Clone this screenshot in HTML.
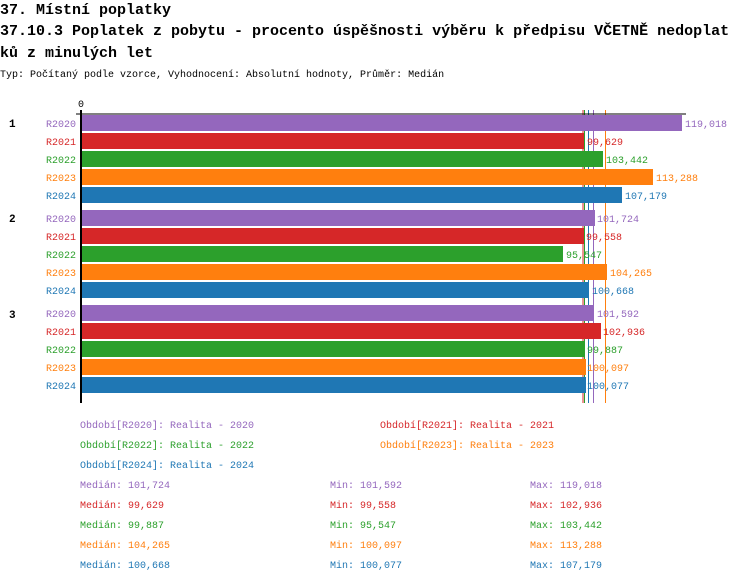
<!DOCTYPE html>
<html><head><meta charset="utf-8"><style>
body{margin:0;background:#fff;}
svg{display:block;font-family:"Liberation Mono",monospace;}
</style></head><body>
<svg width="750" height="582" xmlns="http://www.w3.org/2000/svg">
<g font-weight="bold" font-size="15" fill="#000">
<text x="0" y="14">37. Místní poplatky</text>
<text x="0" y="35">37.10.3 Poplatek z pobytu - procento úspěšnosti výběru k předpisu VČETNĚ nedoplat</text>
<text x="0" y="57">ků z minulých let</text>
</g>
<text x="0" y="77" font-size="10">Typ: Počítaný podle vzorce, Vyhodnocení: Absolutní hodnoty, Průměr: Medián</text>
<text x="78" y="107" font-size="10">0</text>
<g font-size="11" font-weight="bold"><text x="9" y="127">1</text><text x="9" y="222">2</text><text x="9" y="318">3</text></g>
<!-- median lines (behind bars) -->
<g stroke-width="1">
<line x1="583" y1="110" x2="583" y2="403" stroke="#d62728"/>
<line x1="584.5" y1="110" x2="584.5" y2="403" stroke="#2ca02c"/>
<line x1="588.5" y1="110" x2="588.5" y2="403" stroke="#1f77b4"/>
<line x1="593.5" y1="110" x2="593.5" y2="403" stroke="#9467bd"/>
<line x1="605.5" y1="110" x2="605.5" y2="403" stroke="#ff7f0e"/>
</g>
<g font-size="10">
<rect x="82" y="115" width="600" height="16" fill="#9467bd"/><text x="46" y="127" fill="#9467bd">R2020</text><text x="685" y="127" fill="#9467bd">119,018</text>
<rect x="82" y="133" width="502" height="16" fill="#d62728"/><text x="46" y="145" fill="#d62728">R2021</text><text x="587" y="145" fill="#d62728">99,629</text>
<rect x="82" y="151" width="521" height="16" fill="#2ca02c"/><text x="46" y="163" fill="#2ca02c">R2022</text><text x="606" y="163" fill="#2ca02c">103,442</text>
<rect x="82" y="169" width="571" height="16" fill="#ff7f0e"/><text x="46" y="181" fill="#ff7f0e">R2023</text><text x="656" y="181" fill="#ff7f0e">113,288</text>
<rect x="82" y="187" width="540" height="16" fill="#1f77b4"/><text x="46" y="199" fill="#1f77b4">R2024</text><text x="625" y="199" fill="#1f77b4">107,179</text>
<rect x="82" y="210" width="513" height="16" fill="#9467bd"/><text x="46" y="222" fill="#9467bd">R2020</text><text x="597" y="222" fill="#9467bd">101,724</text>
<rect x="82" y="228" width="502" height="16" fill="#d62728"/><text x="46" y="240" fill="#d62728">R2021</text><text x="586" y="240" fill="#d62728">99,558</text>
<rect x="82" y="246" width="481" height="16" fill="#2ca02c"/><text x="46" y="258" fill="#2ca02c">R2022</text><text x="566" y="258" fill="#2ca02c">95,547</text>
<rect x="82" y="264" width="525" height="16" fill="#ff7f0e"/><text x="46" y="276" fill="#ff7f0e">R2023</text><text x="610" y="276" fill="#ff7f0e">104,265</text>
<rect x="82" y="282" width="507" height="16" fill="#1f77b4"/><text x="46" y="294" fill="#1f77b4">R2024</text><text x="592" y="294" fill="#1f77b4">100,668</text>
<rect x="82" y="305" width="512" height="16" fill="#9467bd"/><text x="46" y="317" fill="#9467bd">R2020</text><text x="597" y="317" fill="#9467bd">101,592</text>
<rect x="82" y="323" width="519" height="16" fill="#d62728"/><text x="46" y="335" fill="#d62728">R2021</text><text x="603" y="335" fill="#d62728">102,936</text>
<rect x="82" y="341" width="503" height="16" fill="#2ca02c"/><text x="46" y="353" fill="#2ca02c">R2022</text><text x="587" y="353" fill="#2ca02c">99,887</text>
<rect x="82" y="359" width="504" height="16" fill="#ff7f0e"/><text x="46" y="371" fill="#ff7f0e">R2023</text><text x="587" y="371" fill="#ff7f0e">100,097</text>
<rect x="82" y="377" width="504" height="16" fill="#1f77b4"/><text x="46" y="389" fill="#1f77b4">R2024</text><text x="587" y="389" fill="#1f77b4">100,077</text>
</g>
<line x1="76" y1="114" x2="686" y2="114" stroke="#000" stroke-width="1"/>
<line x1="81" y1="110" x2="81" y2="403" stroke="#000" stroke-width="2"/>
<g font-size="10">
<text x="80" y="428" fill="#9467bd">Období[R2020]: Realita - 2020</text>
<text x="380" y="428" fill="#d62728">Období[R2021]: Realita - 2021</text>
<text x="80" y="448" fill="#2ca02c">Období[R2022]: Realita - 2022</text>
<text x="380" y="448" fill="#ff7f0e">Období[R2023]: Realita - 2023</text>
<text x="80" y="468" fill="#1f77b4">Období[R2024]: Realita - 2024</text>
<g fill="#9467bd"><text x="80" y="488">Medián: 101,724</text><text x="330" y="488">Min: 101,592</text><text x="530" y="488">Max: 119,018</text></g>
<g fill="#d62728"><text x="80" y="508">Medián: 99,629</text><text x="330" y="508">Min: 99,558</text><text x="530" y="508">Max: 102,936</text></g>
<g fill="#2ca02c"><text x="80" y="528">Medián: 99,887</text><text x="330" y="528">Min: 95,547</text><text x="530" y="528">Max: 103,442</text></g>
<g fill="#ff7f0e"><text x="80" y="548">Medián: 104,265</text><text x="330" y="548">Min: 100,097</text><text x="530" y="548">Max: 113,288</text></g>
<g fill="#1f77b4"><text x="80" y="568">Medián: 100,668</text><text x="330" y="568">Min: 100,077</text><text x="530" y="568">Max: 107,179</text></g>
</g>
</svg>
</body></html>
